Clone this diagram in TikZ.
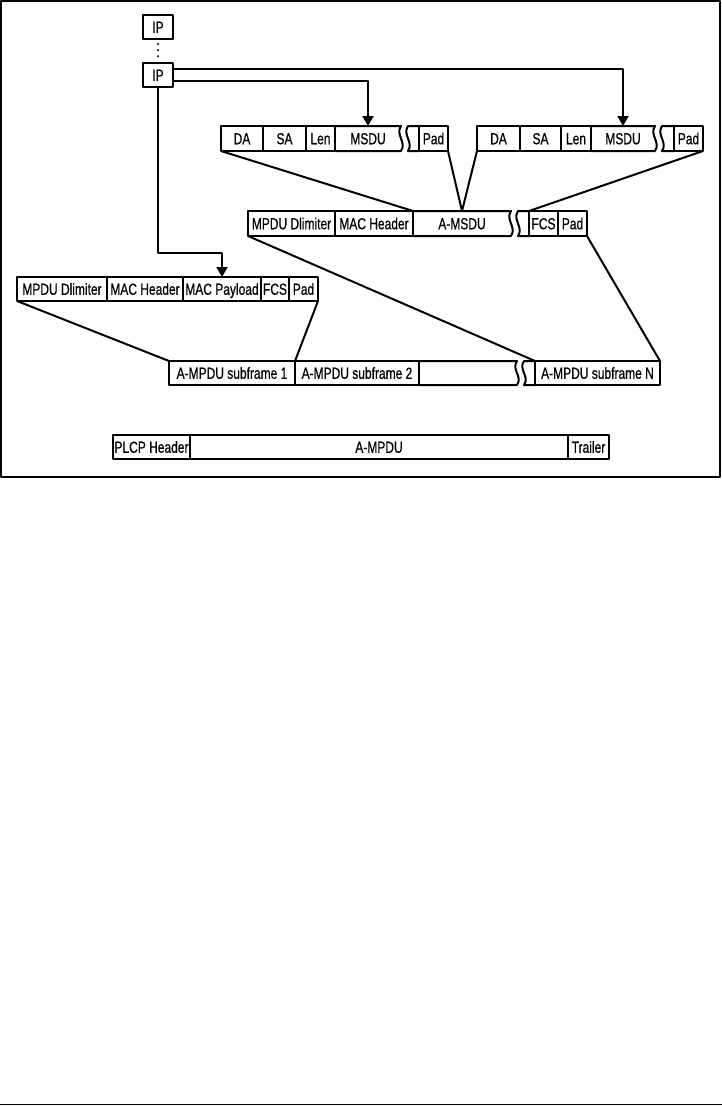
\documentclass[tikz,border=0pt]{standalone}
\usepackage{fontspec}
\setmainfont[FakeStretch=0.75,FakeBold=0.6]{Liberation Sans}
\usetikzlibrary{arrows.meta}

\begin{document}
\begin{tikzpicture}[x=1pt,y=-1pt,line width=2pt,line join=round,
  >={Triangle[length=10pt,width=11pt]},
  cell/.style={anchor=north west,inner sep=0pt,outer sep=0pt,
    minimum height=24pt,text height=11.5pt,text depth=0pt,
    font=\fontsize{16}{18}\selectfont},
  field/.style={cell,draw},
  wavy/.style={to path={.. controls +(-6,9) and +(6,-9) .. (\tikztotarget)}}]
  \useasboundingbox (0,0) rectangle (722,1106);
  \draw[line width=1.3pt] (1,1) rectangle (720,477);
  \draw[line width=1.5pt] (0,1104.5)--(722,1104.5);

  \node[field,minimum width=30] (ip1) at (143,15) {IP};
  \node[field,minimum width=30] (ip2) at (143,63) {IP};
  \draw[line width=2.4pt,dash pattern=on 0.1pt off 6pt,line cap=round,shorten <=5pt,shorten >=4pt] (ip1.south)--(ip2.north);

  \node[field,minimum height=25,minimum width=42] (da1) at (221,126) {DA};
  \node[field,minimum height=25,minimum width=43] (sa1) at (263,126) {SA};
  \node[field,minimum height=25,minimum width=29] (len1) at (306,126) {Len};
  \node[cell,minimum height=25,minimum width=66] (msdu1) at (335,126) {MSDU};
  \node[cell,minimum height=25,minimum width=11] (gap1) at (408,126) {};
  \node[field,minimum height=25,minimum width=29] (pad1) at (419,126) {Pad};
  \draw (msdu1.north west)--(msdu1.north east) to[wavy] (msdu1.south east)--(msdu1.south west);
  \draw (gap1.north east)--(gap1.north west) to[wavy] (gap1.south west)--(gap1.south east);

  \node[field,minimum height=25,minimum width=43] (da2) at (477,126) {DA};
  \node[field,minimum height=25,minimum width=41] (sa2) at (520,126) {SA};
  \node[field,minimum height=25,minimum width=30] (len2) at (561,126) {Len};
  \node[cell,minimum height=25,minimum width=64] (msdu2) at (591,126) {MSDU};
  \node[cell,minimum height=25,minimum width=12] (gap2) at (662,126) {};
  \node[field,minimum height=25,minimum width=29] (pad2) at (674,126) {Pad};
  \draw (msdu2.north west)--(msdu2.north east) to[wavy] (msdu2.south east)--(msdu2.south west);
  \draw (gap2.north east)--(gap2.north west) to[wavy] (gap2.south west)--(gap2.south east);

  \node[field,minimum height=25,minimum width=87] (delimb) at (248,211) {MPDU Dlimiter};
  \node[field,minimum height=25,minimum width=78] (machdrb) at (335,211) {MAC Header};
  \node[cell,minimum height=25,minimum width=98] (amsdu) at (413,211) {A-MSDU};
  \node[cell,minimum height=25,minimum width=11] (gapb) at (518,211) {};
  \node[field,minimum height=25,minimum width=29] (fcsb) at (529,211) {FCS};
  \node[field,minimum height=25,minimum width=29] (padb) at (558,211) {Pad};
  \draw (amsdu.north west)--(amsdu.north east) to[wavy] (amsdu.south east)--(amsdu.south west);
  \draw (gapb.north east)--(gapb.north west) to[wavy] (gapb.south west)--(gapb.south east);

  \node[field,minimum width=90] (delimc) at (17,277) {MPDU Dlimiter};
  \node[field,minimum width=76] (machdrc) at (107,277) {MAC Header};
  \node[field,minimum width=78] (payload) at (183,277) {MAC Payload};
  \node[field,minimum width=28] (fcsc) at (261,277) {FCS};
  \node[field,minimum width=29] (padc) at (289,277) {Pad};

  \node[field,minimum width=126] (sf1) at (169,361) {A-MPDU subframe 1};
  \node[field,minimum width=124] (sf2) at (295,361) {A-MPDU subframe 2};
  \node[cell,minimum width=98] (sfblank) at (419,361) {};
  \node[cell,minimum width=11] (gapd) at (524,361) {};
  \node[field,minimum width=125] (sfn) at (535,361) {A-MPDU subframe N};
  \draw (sfblank.north west)--(sfblank.north east) to[wavy] (sfblank.south east)--(sfblank.south west);
  \draw (gapd.north east)--(gapd.north west) to[wavy] (gapd.south west)--(gapd.south east);

  \node[field,minimum width=77] (plcp) at (113,435) {PLCP Header};
  \node[field,minimum width=378] (ampdu) at (190,435) {A-MPDU};
  \node[field,minimum width=41] (trailer) at (568,435) {Trailer};

  \draw[->] ([yshift=-6pt]ip2.east) -| (msdu1.north);
  \draw[->] ([yshift=6pt]ip2.east) -| (msdu2.north);
  \draw[->] (ip2.south) -- ++(0,166) -| (payload.north);

  \draw (da1.south west)--(machdrb.north east);
  \draw (pad1.south east)--(amsdu.north);
  \draw (da2.south west)--(amsdu.north);
  \draw (pad2.south east)--(fcsb.north west);
  \draw (delimb.south west)--(sfn.north west);
  \draw (padb.south east)--(sfn.north east);
  \draw (delimc.south west)--(sf1.north west);
  \draw (padc.south east)--(sf1.north east);
\end{tikzpicture}
\end{document}
